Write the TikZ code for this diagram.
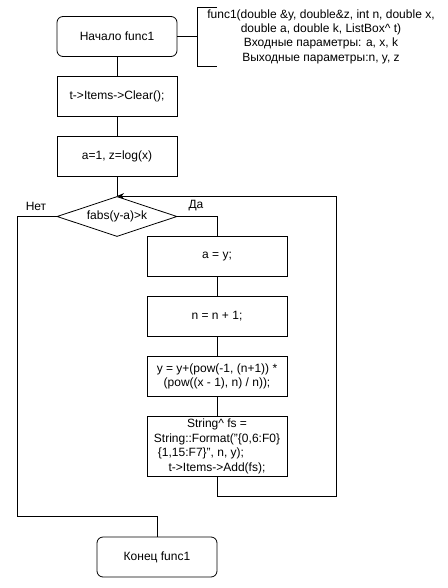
\documentclass[tikz,border=0pt]{standalone}
\usepackage{fontspec}
\setmainfont{Liberation Sans}
\usetikzlibrary{shapes.geometric,arrows.meta}

\begin{document}
\begin{tikzpicture}[x=1pt, y=-1pt, line width=0.8pt,
    font=\fontsize{12}{14.5}\selectfont,
    term/.style={draw, rounded corners=6pt, minimum width=120pt, minimum height=40pt},
    proc/.style={draw, minimum width=120pt, minimum height=40pt, align=center, inner sep=2pt},
    wide/.style={proc, minimum width=140pt},
    cond/.style={draw, diamond, aspect=3, inner sep=0pt, minimum width=120pt, minimum height=40pt},
    arr/.style={-{Stealth[length=7pt, width=6pt]}}]
  \useasboundingbox (0,0) rectangle (447,588);
  \node[term] (start) at (117,36.5) {Начало func1};
  \node[proc] (clear) at (117,96.5) {t->Items->Clear();};
  \node[proc] (init) at (117,156.5) {a=1, z=log(x)};
  \node[cond] (check) at (117,216.5) {fabs(y-a)>k};
  \node[wide] (ay) at (217,256.5) {a = y;};
  \node[wide] (inc) at (217,316.5) {n = n + 1;};
  \node[wide] (sum) at (217,376.5) {y = y+(pow(-1, (n+1)) *\\(pow((x - 1), n) / n));};
  \node[wide, minimum height=60pt] (out) at (217,446.5)
    {String\textasciicircum{} fs =\\String::Format("\{0,6:F0\}\\\{1,15:F7\}", n, y);\hspace*{32pt}\mbox{}\\t->Items->Add(fs);};
  \node[term] (stop) at (157,557) {Конец func1};
  \node[align=center, font=\fontsize{12}{14.3}\selectfont] (note) at (321,36.5)
    {func1(double \&y, double\&z, int n, double x,\\double a, double k, ListBox\textasciicircum{} t)\\Входные параметры: a, x, k\\Выходные параметры:n, y, z};
  \node (no) at (36,206) {Нет};
  \node (yes) at (196,206) {Да};

  \coordinate (brace) at (197,36.5);
  \coordinate (loopR) at (336,496);
  \coordinate (exitL) at (17,516);

  \draw (start) -- (brace);
  \draw (217,7) -- (197,7) -- (197,66) -- (217,66);
  \draw (start) -- (clear);
  \draw (clear) -- (init);
  \draw (init) -- (check);
  \draw (check.east) -| (ay.north);
  \draw (ay) -- (inc);
  \draw (inc) -- (sum);
  \draw (sum) -- (out);
  \draw[arr] (out.south) |- (loopR) |- (check.north);
  \draw (check.west) -| (exitL) -| (stop.north);
\end{tikzpicture}
\end{document}
